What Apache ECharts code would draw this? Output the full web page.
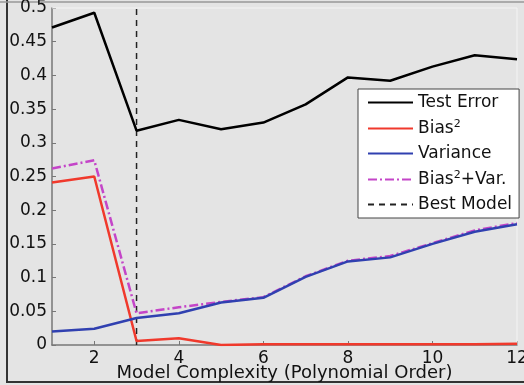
<!DOCTYPE html>
<html>
<head>
<meta charset="utf-8">
<script src="https://cdn.jsdelivr.net/npm/echarts@6/dist/echarts.min.js"></script>
<style>
html,body{margin:0;padding:0;background:#e4e4e4;}
#c{width:524px;height:385px;}
</style>
</head>
<body>
<div id="c"></div>
<script>
const complexity = [1,2,3,4,5,6,7,8,9,10,11,12];
const testError = [0.471,0.493,0.318,0.334,0.320,0.330,0.357,0.397,0.392,0.413,0.430,0.424];
const bias2 = [0.241,0.250,0.006,0.010,0.000,0.001,0.001,0.001,0.001,0.001,0.001,0.002];
const variance = [0.020,0.024,0.040,0.047,0.063,0.070,0.101,0.124,0.130,0.150,0.168,0.179];
const biasVar = [0.262,0.274,0.047,0.056,0.064,0.071,0.102,0.125,0.132,0.151,0.170,0.181];
const bestModel = 3;
const xTicks = [2,4,6,8,10,12];
const seriesNames = ['Test Error','Bias²','Variance','Bias²+Var.','Best Model'];

const pair = arr => complexity.map((x,i)=>[x,arr[i]]);
const chart = echarts.init(document.getElementById('c'), null, {renderer:'canvas'});
const font = 'DejaVu Sans, Liberation Sans, sans-serif';
chart.setOption({
  backgroundColor:'#e4e4e4',
  animation:false,
  graphic:[
    {type:'line', shape:{x1:7,y1:0,x2:7,y2:383}, style:{stroke:'#333',lineWidth:2}, z:0},
    {type:'line', shape:{x1:7,y1:382,x2:524,y2:382}, style:{stroke:'#333',lineWidth:2}, z:0},
    {type:'line', shape:{x1:0,y1:2,x2:524,y2:2}, style:{stroke:'#999',lineWidth:1.5}, z:0},
    {type:'line', shape:{x1:52,y1:8,x2:517,y2:8}, style:{stroke:'#f4f4f4',lineWidth:1}, z:1},
    {type:'line', shape:{x1:517,y1:8,x2:517,y2:345}, style:{stroke:'#f4f4f4',lineWidth:1}, z:1}
  ],
  grid:{left:52,right:7,top:8,bottom:40,containLabel:false,outerBoundsMode:'none'},
  legend:{
    data:seriesNames,
    orient:'vertical',
    left:358, top:89,
    itemWidth:45, itemHeight:14, itemGap:8, itemTextGap:7,
    padding:[5,7,5,9],
    backgroundColor:'#ffffff',
    borderColor:'#444',
    borderWidth:1,
    borderRadius:0,
    itemStyle:{opacity:0},
    formatter: function(name){
      if(name==='Bias²') return '{t|Bias}{s|2}';
      if(name==='Bias²+Var.') return '{t|Bias}{s|2}{t|+Var.}';
      return '{t|'+name+'}';
    },
    textStyle:{
      color:'#111', fontFamily:font, fontSize:17,
      rich:{
        t:{fontSize:17,fontFamily:font,color:'#111'},
        s:{fontSize:11,fontFamily:font,color:'#111',verticalAlign:'top',padding:[0,0,8,0]}
      }
    }
  },
  xAxis:{
    type:'value', min:1, max:12,
    name:'Model Complexity (Polynomial Order)',
    nameLocation:'middle', nameGap:19, nameMoveOverlap:false,
    nameTextStyle:{fontFamily:font,fontSize:18,color:'#111'},
    axisLine:{show:true,lineStyle:{color:'#777',width:1.5}},
    axisTick:{show:true,inside:true,length:4,lineStyle:{color:'#777'},customValues:xTicks},
    axisLabel:{fontFamily:font,fontSize:17,color:'#111',margin:5,customValues:xTicks},
    splitLine:{show:false}
  },
  yAxis:{
    type:'value', min:0, max:0.5, interval:0.05,
    axisLine:{show:true,lineStyle:{color:'#777',width:1.5}},
    axisTick:{show:true,inside:true,length:4,lineStyle:{color:'#777'}},
    axisLabel:{fontFamily:font,fontSize:17,color:'#111',margin:5,
      formatter:v=>String(parseFloat(v.toFixed(2)))},
    splitLine:{show:false}
  },
  series:[
    {name:seriesNames[0],type:'line',data:pair(testError),symbol:'none',
      itemStyle:{color:'#000'},lineStyle:{color:'#000',width:2.5},z:5},
    {name:seriesNames[1],type:'line',data:pair(bias2),symbol:'none',
      itemStyle:{color:'#f0392c'},lineStyle:{color:'#f0392c',width:2.5},z:4},
    {name:seriesNames[2],type:'line',data:pair(variance),symbol:'none',
      itemStyle:{color:'#3040b0'},lineStyle:{color:'#3040b0',width:2.5},z:4},
    {name:seriesNames[3],type:'line',data:pair(biasVar),symbol:'none',
      itemStyle:{color:'#c445c8'},lineStyle:{color:'#c445c8',width:2.5,type:[9,3,2,3]},z:3},
    {name:seriesNames[4],type:'line',data:[[bestModel,0],[bestModel,0.5]],symbol:'none',
      itemStyle:{color:'#222'},lineStyle:{color:'#222',width:1.5,type:[6,5]},z:2}
  ]
});
</script>
</body>
</html>
